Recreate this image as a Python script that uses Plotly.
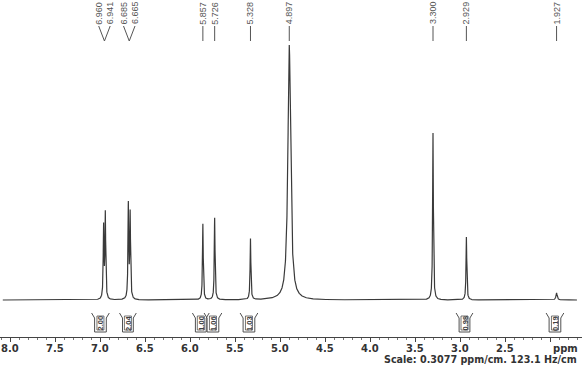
import numpy as np
import plotly.graph_objects as go

# ---- data ----
peak_ppm = [6.960, 6.941, 6.685, 6.665, 5.857, 5.726, 5.328, 4.897, 3.300, 2.929, 1.927]
peak_height = [72, 85, 94, 85, 76, 82, 61, 255, 167, 63, 7]
peak_hwhm = [0.005, 0.005, 0.005, 0.005, 0.005, 0.005, 0.005, 0.018, 0.005, 0.005, 0.008]

label_groups = [["6.960", "6.941"], ["6.685", "6.665"], ["5.857"], ["5.726"],
                ["5.328"], ["4.897"], ["3.300"], ["2.929"], ["1.927"]]

integ_start = [7.06, 6.75, 5.94, 5.81, 5.41, 3.01, 2.01]
integ_end = [6.93, 6.63, 5.82, 5.68, 5.28, 2.89, 1.88]
integ_value = ["2.00", "2.04", "1.00", "1.06", "1.03", "0.98", "0.19"]

tick_vals = [8.0, 7.5, 7.0, 6.5, 6.0, 5.5, 5.0, 4.5, 4.0, 3.5, 3.0, 2.5, 2.0]
tick_text = ["8.0", "7.5", "7.0", "6.5", "6.0", "5.5", "5.0", "4.5", "4.0", "3.5", "3.0", "2.5", ""]

W, H = 582, 369
X_LEFT, X_RIGHT = 8.1111, 1.6444
PX_PER_PPM = W / (X_LEFT - X_RIGHT)

def py(p):  # pixel row -> paper y
    return 1 - p / H

# spectrum from the peak list (Lorentzian line shapes)
ppm = np.arange(8.08, 1.70, -0.0005)
spec = np.zeros_like(ppm)
for c, h, w in zip(peak_ppm, peak_height, peak_hwhm):
    spec += h / (1 + ((ppm - c) / w) ** 2)

BASE = 300
fig = go.Figure()
fig.add_trace(go.Scatter(x=ppm, y=spec, mode="lines",
                         line=dict(color="#3a3a3a", width=1.2), hoverinfo="skip"))

gray = "#505050"
shapes = []
annotations = []

# peak labels with connectors
lab_font = dict(family="Liberation Sans, Arial", size=9, color="#555555")
pk = dict(zip(["%.3f" % p for p in peak_ppm], peak_ppm))
for grp in label_groups:
    centers = [pk[g] for g in grp]
    mean_c = sum(centers) / len(centers)
    n = len(grp)
    for i, g in enumerate(grp):
        off_px = (i - (n - 1) / 2) * 11.5
        lx = mean_c - off_px / PX_PER_PPM
        annotations.append(dict(x=lx, y=py(13), xref="x", yref="paper", text=g,
                                textangle=-90, showarrow=False, font=lab_font,
                                xanchor="center", yanchor="middle"))
        shapes.append(dict(type="line", xref="x", yref="paper", x0=lx, x1=pk[g] if n == 1 else mean_c,
                           y0=py(26), y1=py(41), line=dict(color="#555555", width=1)))

# integration brackets
int_font = dict(family="Liberation Sans, Arial", size=7.5, color="#404040")
fl = 3 / PX_PER_PPM
for a, b, v in zip(integ_start, integ_end, integ_value):
    path = (f"M {a + fl},{py(313)} L {a},{py(318)} L {a},{py(332)} "
            f"L {b},{py(332)} L {b},{py(318)} L {b - fl},{py(313)}")
    shapes.append(dict(type="path", xref="x", yref="paper", path=path,
                       line=dict(color=gray, width=1)))
    shapes.append(dict(type="rect", xref="x", yref="paper",
                       x0=(a + b) / 2 + 3.5 / PX_PER_PPM, x1=(a + b) / 2 - 3.5 / PX_PER_PPM,
                       y0=py(330), y1=py(316), line=dict(color=gray, width=0.8)))
    annotations.append(dict(x=(a + b) / 2, y=py(323), xref="x", yref="paper", text="<b>%s</b>" % v,
                            textangle=-90, showarrow=False, font=int_font,
                            xanchor="center", yanchor="middle"))

# axis tick labels (bold)
tick_font = dict(family="DejaVu Sans", size=10, color="#333333")
for tv, tt in zip(tick_vals, tick_text):
    if tt:
        annotations.append(dict(x=tv, y=py(348), xref="x", yref="paper", text="<b>%s</b>" % tt,
                                showarrow=False, font=tick_font, xanchor="center", yanchor="middle"))

annotations.append(dict(x=1.83, y=py(348), xref="x", yref="paper", text="<b>ppm</b>",
                        showarrow=False, font=tick_font, xanchor="center", yanchor="middle"))
annotations.append(dict(x=1.0, y=py(359), xref="paper", yref="paper",
                        text="<b>Scale: 0.3077 ppm/cm. 123.1 Hz/cm</b>", showarrow=False,
                        font=dict(family="DejaVu Sans", size=9.6, color="#333333"),
                        xanchor="right", yanchor="middle", xshift=-3))

fig.update_layout(
    width=W, height=H, margin=dict(l=0, r=0, t=0, b=0),
    paper_bgcolor="white", plot_bgcolor="white", showlegend=False,
    xaxis=dict(range=[X_LEFT, X_RIGHT], showgrid=False, zeroline=False,
               showline=True, linecolor="#444444", linewidth=1,
               anchor="free", position=py(337),
               tickvals=tick_vals, ticks="outside", ticklen=4,
               tickcolor="#444444", showticklabels=False,
               minor=dict(dtick=0.1, ticks="outside", ticklen=2, tickcolor="#777777")),
    yaxis=dict(range=[-(H - BASE), BASE], visible=False, domain=[0, 1]),
    shapes=shapes, annotations=annotations,
)
fig.write_html("out.html")
